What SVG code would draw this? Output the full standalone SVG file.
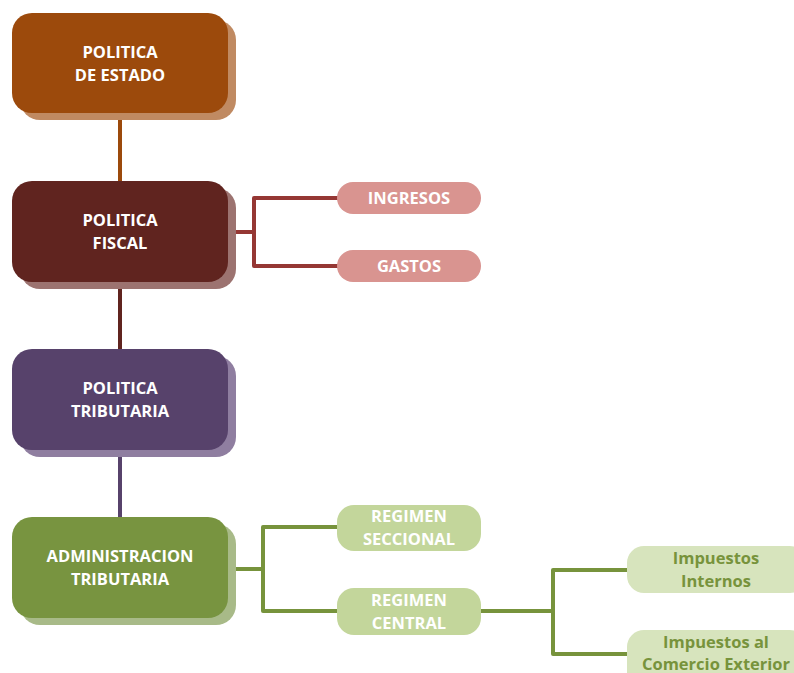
<svg xmlns="http://www.w3.org/2000/svg" width="794" height="673" viewBox="0 0 794 673">
<style>
text{font-family:"Open Sans","Liberation Sans",Arial,sans-serif;font-weight:bold;font-size:16.5px;text-anchor:middle}
.w{fill:#ffffff}
.g{fill:#77933C}
.c{fill:none;stroke-width:4;stroke-linecap:round;stroke-linejoin:round}
</style>
<rect width="794" height="673" fill="#ffffff"/>
<g id="connectors">
<line class="c" x1="120" y1="113" x2="120" y2="182" stroke="#9C4A0C"/>
<line class="c" x1="120" y1="282" x2="120" y2="350" stroke="#60241F"/>
<line class="c" x1="120" y1="450" x2="120" y2="518" stroke="#57426B"/>
<path class="c" d="M228 232 H254 M338 198 H254 V266 H338" stroke="#953734"/>
<path class="c" d="M228 569 H263 M338 527 H263 V611 H338" stroke="#77933C"/>
<path class="c" d="M481 611 H553 M627 570 H553 V654 H627" stroke="#77933C"/>
</g>
<g id="politica-estado">
<rect x="20" y="20" width="216" height="100" rx="20" fill="#C08A62"/>
<rect x="12" y="13" width="216" height="100" rx="20" fill="#9C4A0C"/>
<text class="w" x="120" y="58">POLITICA</text>
<text class="w" x="120" y="81">DE ESTADO</text>
</g>
<g id="politica-fiscal">
<rect x="20" y="188" width="216" height="101" rx="20" fill="#9C7370"/>
<rect x="12" y="181" width="216" height="101" rx="20" fill="#60241F"/>
<text class="w" x="120" y="226">POLITICA</text>
<text class="w" x="120" y="249">FISCAL</text>
</g>
<g id="politica-tributaria">
<rect x="20" y="356" width="216" height="101" rx="20" fill="#8F7EA0"/>
<rect x="12" y="349" width="216" height="101" rx="20" fill="#57426B"/>
<text class="w" x="120" y="394">POLITICA</text>
<text class="w" x="120" y="417">TRIBUTARIA</text>
</g>
<g id="administracion-tributaria">
<rect x="20" y="524" width="216" height="101" rx="20" fill="#A8BA88"/>
<rect x="12" y="517" width="216" height="101" rx="20" fill="#789440"/>
<text class="w" x="120" y="562">ADMINISTRACION</text>
<text class="w" x="120" y="585">TRIBUTARIA</text>
</g>
<g id="ingresos">
<rect x="337" y="182" width="144" height="32" rx="16" fill="#D99490"/>
<text class="w" x="409" y="204">INGRESOS</text>
</g>
<g id="gastos">
<rect x="337" y="250" width="144" height="32" rx="16" fill="#D99490"/>
<text class="w" x="409" y="272">GASTOS</text>
</g>
<g id="regimen-seccional">
<rect x="337" y="505" width="144" height="46" rx="17" fill="#C3D69B"/>
<text class="w" x="409" y="522">REGIMEN</text>
<text class="w" x="409" y="545">SECCIONAL</text>
</g>
<g id="regimen-central">
<rect x="337" y="588" width="144" height="47" rx="17" fill="#C3D69B"/>
<text class="w" x="409" y="606">REGIMEN</text>
<text class="w" x="409" y="629">CENTRAL</text>
</g>
<g id="impuestos-internos">
<rect x="627" y="546" width="180" height="47" rx="17" fill="#D7E4BD"/>
<text class="g" x="716" y="564">Impuestos</text>
<text class="g" x="716" y="587">Internos</text>
</g>
<g id="impuestos-comercio-exterior">
<rect x="627" y="630" width="180" height="60" rx="17" fill="#D7E4BD"/>
<text class="g" x="716" y="648">Impuestos al</text>
<text class="g" x="716" y="670">Comercio Exterior</text>
</g>
</svg>
